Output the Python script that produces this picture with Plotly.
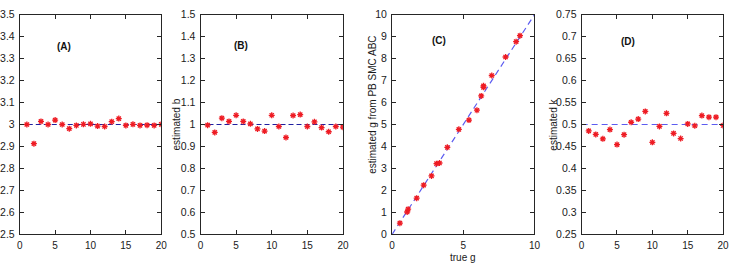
import plotly.graph_objects as go

# ---- data ----
idx = list(range(1, 21))
est_a = [3.000, 2.913, 3.014, 3.000, 3.020, 3.000, 2.981, 2.996, 3.001, 3.003,
         2.993, 2.991, 3.013, 3.027, 2.996, 3.001, 2.996, 2.997, 2.996, 3.001]
est_b = [0.997, 0.964, 1.029, 1.014, 1.042, 1.014, 1.003, 0.980, 0.970, 1.042,
         0.991, 0.941, 1.041, 1.045, 0.991, 1.012, 0.986, 0.967, 0.991, 0.988]
true_g = [0.55, 1.06, 1.13, 1.73, 2.22, 2.77, 3.12, 3.33, 3.88, 4.69,
          5.40, 5.96, 6.26, 6.42, 6.42, 7.00, 7.97, 8.71, 8.98]
est_g = [0.51, 1.02, 1.15, 1.65, 2.24, 2.66, 3.22, 3.25, 3.96, 4.78,
         5.20, 5.65, 6.30, 6.76, 6.69, 7.23, 8.07, 8.77, 9.04]
est_k = [0.4855, 0.4775, 0.4674, 0.4884, 0.4543, 0.4768, 0.5051, 0.5123, 0.5297, 0.4594,
         0.4957, 0.5254, 0.4797, 0.4681, 0.5014, 0.4971, 0.5203, 0.5167, 0.5167, 0.4978]

true_a = 3.0
true_b = 1.0
true_k = 0.5
ref_line_x = [0, 20]
diag_line = [0, 10]

xt_20 = [0, 5, 10, 15, 20]
xt_10 = [0, 5, 10]
yt_a = [2.5, 2.6, 2.7, 2.8, 2.9, 3.0, 3.1, 3.2, 3.3, 3.4, 3.5]
yl_a = ["2.5", "2.6", "2.7", "2.8", "2.9", "3", "3.1", "3.2", "3.3", "3.4", "3.5"]
yt_b = [0.5, 0.6, 0.7, 0.8, 0.9, 1.0, 1.1, 1.2, 1.3, 1.4, 1.5]
yl_b = ["0.5", "0.6", "0.7", "0.8", "0.9", "1", "1.1", "1.2", "1.3", "1.4", "1.5"]
yt_c = list(range(0, 11))
yl_c = [str(v) for v in yt_c]
yt_d = [0.25, 0.3, 0.35, 0.4, 0.45, 0.5, 0.55, 0.6, 0.65, 0.7, 0.75]
yl_d = ["0.25", "0.3", "0.35", "0.4", "0.45", "0.5", "0.55", "0.6", "0.65", "0.7", "0.75"]

FONT = "Liberation Sans, Arial, Helvetica, sans-serif"
RED = "#ee1c24"
marker = dict(symbol="asterisk-open", size=5, color=RED, line=dict(color=RED, width=1.3))
dash_dark = dict(color="#1f1fa0", width=1, dash="5px,3px")
dash_light = dict(color="#5c5cf0", width=1.2, dash="6px,4px")

# main axes (labels): x, x2, x3, x4 ; overlay axes (inside ticks + frame): x5..x8
fig = go.Figure()
panels = [
    (ref_line_x, [true_a, true_a], dash_dark, idx, est_a),
    (ref_line_x, [true_b, true_b], dash_dark, idx, est_b),
    (diag_line, diag_line, dash_light, true_g, est_g),
    (ref_line_x, [true_k, true_k], dash_light, idx, est_k),
]
for i, (lx, ly, lst, mx, my) in enumerate(panels):
    sm = "" if i == 0 else str(i + 1)
    so = str(i + 5)
    fig.add_trace(go.Scatter(x=lx, y=ly, mode="lines", line=lst, xaxis="x" + sm, yaxis="y" + sm))
    fig.add_trace(go.Scatter(x=mx, y=my, mode="markers", marker=marker, xaxis="x" + so, yaxis="y" + so))

W, H = 734, 271
xdoms = [(13, 157), (197, 342), (392, 537), (585, 729)]
ydom = [1 - 239 / H, 1 - 9 / H]

tf = dict(family=FONT, size=10.5, color="#1a1a1a")
lab_common = dict(showgrid=False, zeroline=False, showline=False, ticks="outside",
                  tickcolor="rgba(0,0,0,0)")
frame_common = dict(showgrid=False, zeroline=False, showline=True, linecolor="#262626", linewidth=1,
                    mirror="ticks", ticks="inside", ticklen=4, tickcolor="#262626", tickwidth=1,
                    showticklabels=False)

yspecs = [([2.5, 3.5], yt_a, yl_a), ([0.5, 1.5], yt_b, yl_b), ([0, 10], yt_c, yl_c), ([0.25, 0.75], yt_d, yl_d)]
xspecs = [([0, 20], xt_20), ([0, 20], xt_20), ([0, 10], xt_10), ([0, 20], xt_20)]

layout = dict(width=W, height=H, margin=dict(l=0, r=0, t=0, b=0), showlegend=False,
              plot_bgcolor="white", paper_bgcolor="white", font=dict(family=FONT))
for i in range(4):
    sm = "" if i == 0 else str(i + 1)
    so = str(i + 5)
    (x0, x1) = xdoms[i]
    xr, xt = xspecs[i]
    yr, yt, yl = yspecs[i]
    xd = [x0 / W, x1 / W]
    layout["xaxis" + sm] = dict(domain=xd, range=xr, tickvals=xt, ticktext=[str(v) for v in xt],
                                anchor="y" + sm, ticklen=2,
                                tickfont=dict(family=FONT, size=10, color="#1a1a1a"), **lab_common)
    layout["yaxis" + sm] = dict(domain=ydom, range=yr, tickvals=yt, ticktext=yl,
                                anchor="x" + sm, ticklen=2, tickfont=tf, **lab_common)
    layout["xaxis" + so] = dict(domain=xd, range=xr, tickvals=xt, anchor="y" + so,
                                overlaying="x" + sm, **frame_common)
    layout["yaxis" + so] = dict(domain=ydom, range=yr, tickvals=yt, anchor="x" + so,
                                overlaying="y" + sm, **frame_common)
fig.update_layout(**layout)

def panel_label(text, i, fx, fy):
    sx = "" if i == 0 else str(i + 1)
    fig.add_annotation(text="<b>%s</b>" % text, xref="x%s domain" % sx, yref="y%s domain" % sx,
                       x=fx, y=fy, showarrow=False, font=dict(family=FONT, size=10, color="#111"))

panel_label("(A)", 0, 0.25, 0.89)
panel_label("(B)", 1, 0.22, 0.895)
panel_label("(C)", 2, 0.265, 0.915)
panel_label("(D)", 3, 0.265, 0.91)

def ytitle(text, xpix, ypix):
    fig.add_annotation(text=text, xref="paper", yref="paper", x=xpix / W, y=1 - ypix / H,
                       textangle=-90, showarrow=False, xanchor="center", yanchor="middle",
                       font=dict(family=FONT, size=10, color="#1a1a1a"))

ytitle("estimated b", 173, 124)
ytitle("estimated g from PB SMC ABC", 372, 103)
ytitle("estimated k", 556, 124)
fig.add_annotation(text="true g", xref="paper", yref="paper", x=464.5 / W, y=0,
                   showarrow=False, xanchor="center", yanchor="bottom", yshift=1, borderpad=0,
                   font=dict(family=FONT, size=10, color="#1a1a1a"))

fig.write_html("out.html")
